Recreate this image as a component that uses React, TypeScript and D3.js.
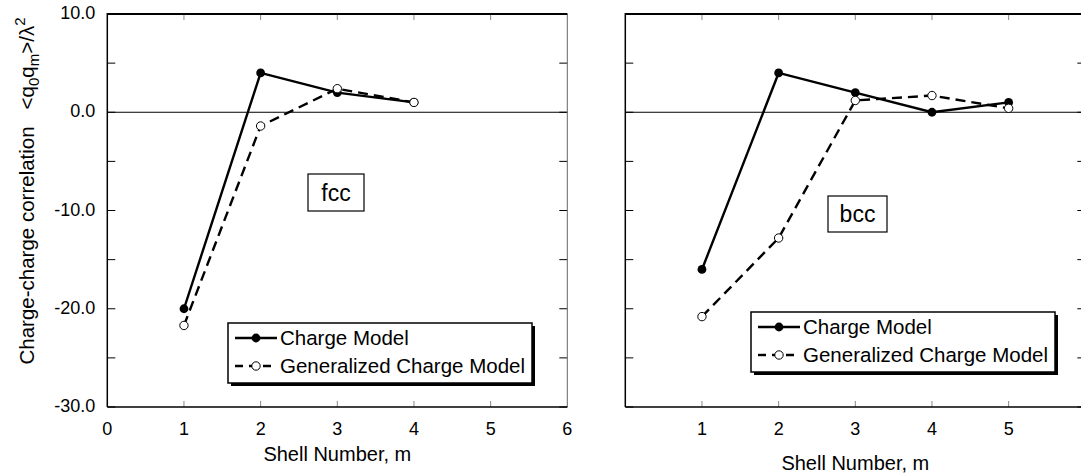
import * as d3 from 'd3';
import React from 'react';

// shell numbers and correlation values
const fccShells = [1, 2, 3, 4];
const fccCharge = [-20.0, 4.0, 2.0, 1.0];
const fccGeneral = [-21.7, -1.4, 2.4, 1.0];

const bccShells = [1, 2, 3, 4, 5];
const bccCharge = [-16.0, 4.0, 2.0, 0.0, 1.0];
const bccGeneral = [-20.8, -12.8, 1.2, 1.7, 0.4];

const yTickLabels = [10, 0, -10, -20, -30];
const yMinorTicks = [10, 5, 0, -5, -10, -15, -20, -25, -30];
const xTicksLeft = [0, 1, 2, 3, 4, 5, 6];
const xTicksRight = [1, 2, 3, 4, 5];
const seriesNames = ['Charge Model', 'Generalized Charge Model'];

const FONT = 'Liberation Sans, Arial, sans-serif';
const TOP = 14;
const BOTTOM = 407;

type PanelProps = {
  left: number;
  shells: number[];
  charge: number[];
  general: number[];
  label: string;
  labelBox: [number, number, number, number];
  xTicks: number[];
  showY: boolean;
  legendPos: [number, number];
  titleY: number;
};

function Panel({ left, shells, charge, general, label, labelBox, xTicks, showY, legendPos, titleY }: PanelProps) {
  const x = d3.scaleLinear().domain([0, 6]).range([left, left + 460]);
  const y = d3.scaleLinear().domain([-30, 10]).range([BOTTOM, TOP]);
  const line = d3.line<number>().x((_, i) => x(shells[i])).y((d) => y(d));
  const [lx, ly] = legendPos;
  const [bx, by, bw, bh] = labelBox;

  return (
    <g>
      {/* zero line */}
      <line x1={x(0)} x2={x(6)} y1={y(0)} y2={y(0)} stroke="#000" strokeWidth={1} />
      {/* ticks, inward on all four sides */}
      {yMinorTicks.map((t) => (
        <g key={'y' + t}>
          <line x1={x(0)} x2={x(0) + 8} y1={y(t)} y2={y(t)} stroke="#000" strokeWidth={1} />
          <line x1={x(6)} x2={x(6) - 8} y1={y(t)} y2={y(t)} stroke="#000" strokeWidth={1} />
        </g>
      ))}
      {[1, 2, 3, 4, 5].map((t) => (
        <g key={'x' + t}>
          <line x1={x(t)} x2={x(t)} y1={TOP} y2={TOP + 6} stroke="#888" strokeWidth={1} />
          <line x1={x(t)} x2={x(t)} y1={BOTTOM} y2={BOTTOM - 6} stroke="#888" strokeWidth={1} />
        </g>
      ))}
      {/* frame */}
      <line x1={x(6)} x2={x(6)} y1={TOP} y2={BOTTOM} stroke="#666" strokeWidth={1} />
      <line x1={x(0)} x2={x(6)} y1={BOTTOM} y2={BOTTOM} stroke="#000" strokeWidth={1.5} />
      <line x1={x(0)} x2={x(6)} y1={TOP} y2={TOP} stroke="#000" strokeWidth={2} />
      <line x1={x(0)} x2={x(0)} y1={TOP - 1} y2={BOTTOM} stroke="#000" strokeWidth={1.5} />

      {showY &&
        yTickLabels.map((t) => (
          <text key={'yl' + t} x={x(0) - 12} y={y(t) + 5} textAnchor="end" fontSize={18} fontFamily={FONT}>
            {t.toFixed(1)}
          </text>
        ))}
      {xTicks.map((t) => (
        <text key={'xl' + t} x={x(t)} y={435} textAnchor="middle" fontSize={18} fontFamily={FONT}>
          {t}
        </text>
      ))}
      <text x={x(3)} y={titleY} textAnchor="middle" fontSize={20} fontFamily={FONT}>
        Shell Number, m
      </text>

      {/* structure label */}
      <rect x={bx} y={by} width={bw} height={bh} fill="#fff" stroke="#000" strokeWidth={1.2} />
      <text x={bx + bw / 2} y={by + bh / 2 + 8} textAnchor="middle" fontSize={23} fontFamily={FONT}>
        {label}
      </text>

      {/* series */}
      <path d={line(general) || ''} fill="none" stroke="#000" strokeWidth={2.4} strokeDasharray="10,6" />
      <path d={line(charge) || ''} fill="none" stroke="#000" strokeWidth={2.4} />
      {charge.map((d, i) => (
        <circle key={'c' + i} cx={x(shells[i])} cy={y(d)} r={4.4} fill="#000" />
      ))}
      {general.map((d, i) => (
        <circle key={'g' + i} cx={x(shells[i])} cy={y(d)} r={4.2} fill="#fff" stroke="#000" strokeWidth={1} />
      ))}

      {/* legend */}
      <rect x={lx + 3} y={ly + 3} width={304} height={60} fill="#000" />
      <rect x={lx} y={ly} width={304} height={60} fill="#fff" stroke="#000" strokeWidth={1.5} />
      <line x1={lx + 7} x2={lx + 49} y1={ly + 15} y2={ly + 15} stroke="#000" strokeWidth={2.4} />
      <circle cx={lx + 28} cy={ly + 15} r={4.4} fill="#000" />
      <line x1={lx + 7} x2={lx + 49} y1={ly + 43} y2={ly + 43} stroke="#000" strokeWidth={2.4} strokeDasharray="8,6" />
      <circle cx={lx + 28} cy={ly + 43} r={4.2} fill="#fff" stroke="#000" strokeWidth={1} />
      {seriesNames.map((n, i) => (
        <text key={n} x={lx + 52} y={ly + 22 + i * 28} fontSize={20.5} fontFamily={FONT}>
          {n}
        </text>
      ))}
    </g>
  );
}

export default function App() {
  return (
    <div style={{ position: 'absolute', left: 0, top: 0 }}>
      <svg width={1081} height={475} style={{ display: 'block', background: '#fff' }}>
        <text
          transform="translate(34,191) rotate(-90)"
          textAnchor="middle"
          fontSize={20.5}
          fontFamily={FONT}
        >
          <tspan>Charge-charge correlation</tspan>
          <tspan dx={17}>{'<q'}</tspan>
          <tspan dy={5} fontSize={15}>0</tspan>
          <tspan dy={-5}>q</tspan>
          <tspan dy={5} fontSize={15}>m</tspan>
          <tspan dy={-5}>{'>/λ'}</tspan>
          <tspan dy={-9} fontSize={15}>2</tspan>
        </text>
        <Panel
          left={107.3}
          shells={fccShells}
          charge={fccCharge}
          general={fccGeneral}
          label="fcc"
          labelBox={[308, 174, 56, 37]}
          xTicks={xTicksLeft}
          showY={true}
          legendPos={[228, 323]}
          titleY={461}
        />
        <Panel
          left={625.3}
          shells={bccShells}
          charge={bccCharge}
          general={bccGeneral}
          label="bcc"
          labelBox={[828, 196, 59, 36]}
          xTicks={xTicksRight}
          showY={false}
          legendPos={[751, 312]}
          titleY={470}
        />
      </svg>
    </div>
  );
}
